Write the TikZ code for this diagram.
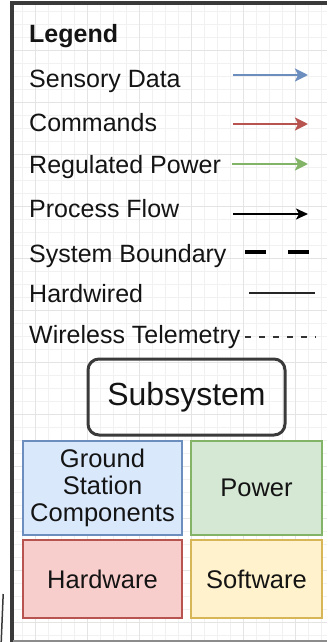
\documentclass[tikz,border=0pt]{standalone}
\usepackage{fontspec}
\setmainfont{Liberation Sans}
\usetikzlibrary{arrows.meta}
\definecolor{gridminor}{HTML}{F1F1F1}
\definecolor{gridmajor}{HTML}{E4E4E4}
\definecolor{frame}{HTML}{3A3A3A}
\definecolor{blueln}{HTML}{6C8EBF}
\definecolor{bluefill}{HTML}{DAE8FC}
\definecolor{redln}{HTML}{B85450}
\definecolor{redfill}{HTML}{F8CECC}
\definecolor{greenln}{HTML}{82B366}
\definecolor{greenfill}{HTML}{D5E8D4}
\definecolor{yellowln}{HTML}{D6B656}
\definecolor{yellowfill}{HTML}{FFF2CC}
\tikzset{
  lbl/.style={anchor=base west, inner sep=0pt, font=\fontsize{25}{28}\selectfont, text=black!92},
  flowarrow/.style={line width=2.5pt, -{Stealth[length=13pt,width=13pt,inset=3pt]}},
  catbox/.style={draw, line width=1.3pt, inner sep=0pt, align=center,
    font=\fontsize{25.5}{27}\selectfont, text=black!92},
}
\begin{document}
\begin{tikzpicture}[x=1pt,y=-1pt]
\useasboundingbox (0,0) rectangle (327,642);
\fill[white] (0,0) rectangle (327,642);

% background grid
\foreach \gx in {22,35,...,327} \draw[gridminor,line width=0.8pt] (\gx,5) -- (\gx,640);
\foreach \gy in {11,24,...,640} \draw[gridminor,line width=0.8pt] (13,\gy) -- (327,\gy);
\foreach \gx in {35,87,...,327} \draw[gridmajor,line width=0.9pt] (\gx,5) -- (\gx,640);
\foreach \gy in {50,102,...,640} \draw[gridmajor,line width=0.9pt] (13,\gy) -- (327,\gy);

% frame
\draw[frame, line width=4pt] (11.5,642) -- (11.5,3.5) -- (327,3.5);
\draw[black!45, line width=2pt] (13,641) -- (327,641);
\draw[frame, line width=1.5pt] (3.2,594) -- (1.2,642);

% legend entries
\node[lbl, font=\fontsize{25}{28}\selectfont\bfseries] (title) at (29,43) {Legend};
\node[lbl] (tsens) at (29,88) {Sensory Data};
\node[lbl] (tcmd) at (29,131) {Commands};
\node[lbl] (treg) at (29,173) {Regulated Power};
\node[lbl] (tproc) at (29,217) {Process Flow};
\node[lbl] (tsys) at (29,262) {System Boundary};
\node[lbl] (thard) at (29,302) {Hardwired};
\node[lbl] (twire) at (29,343) {Wireless Telemetry};

% line samples
\coordinate (s1) at (233,75);  \coordinate (e1) at (308,75);
\coordinate (s2) at (233,124); \coordinate (e2) at (308,124);
\coordinate (s3) at (232,164); \coordinate (e3) at (308,164);
\coordinate (s4) at (233,214); \coordinate (e4) at (308,214);
\coordinate (s5) at (245,252); \coordinate (e5) at (312,252);
\coordinate (s6) at (249,293); \coordinate (e6) at (315,293);
\coordinate (s7) at (245,337); \coordinate (e7) at (316,337);

\draw[flowarrow, blueln] (s1) -- (e1);
\draw[flowarrow, redln] (s2) -- (e2);
\draw[flowarrow, greenln] (s3) -- (e3);
\draw[black, line width=1.8pt, -{Stealth[length=12pt,width=11pt,inset=3pt]}] (s4) -- (e4);
\draw[black, line width=4.5pt, dash pattern=on 21pt off 22pt] (s5) -- (e5);
\draw[black!85, line width=1.8pt] (s6) -- (e6);
\draw[black!80, line width=1.5pt, dash pattern=on 6pt off 8pt] (s7) -- (e7);

% subsystem sample
\node[draw=frame, line width=3pt, rounded corners=11pt, minimum width=197pt,
  minimum height=76pt, inner sep=0pt, font=\fontsize{32}{36}\selectfont, text=black!92]
  (sub) at (186.5,397) {Subsystem};

% category colours
\node[catbox, draw=blueln, fill=bluefill, minimum width=159pt, minimum height=94pt]
  (ground) at (102.5,488) {Ground\\Station\\Components};
\node[catbox, draw=greenln, fill=greenfill, minimum width=131pt, minimum height=94pt]
  (power) at (256.5,488) {Power};
\node[catbox, draw=redln, fill=redfill, minimum width=159pt, minimum height=78pt]
  (hw) at (102.5,579) {Hardware};
\node[catbox, draw=yellowln, fill=yellowfill, minimum width=131pt, minimum height=78pt]
  (sw) at (256.5,579) {Software};
\end{tikzpicture}
\end{document}
